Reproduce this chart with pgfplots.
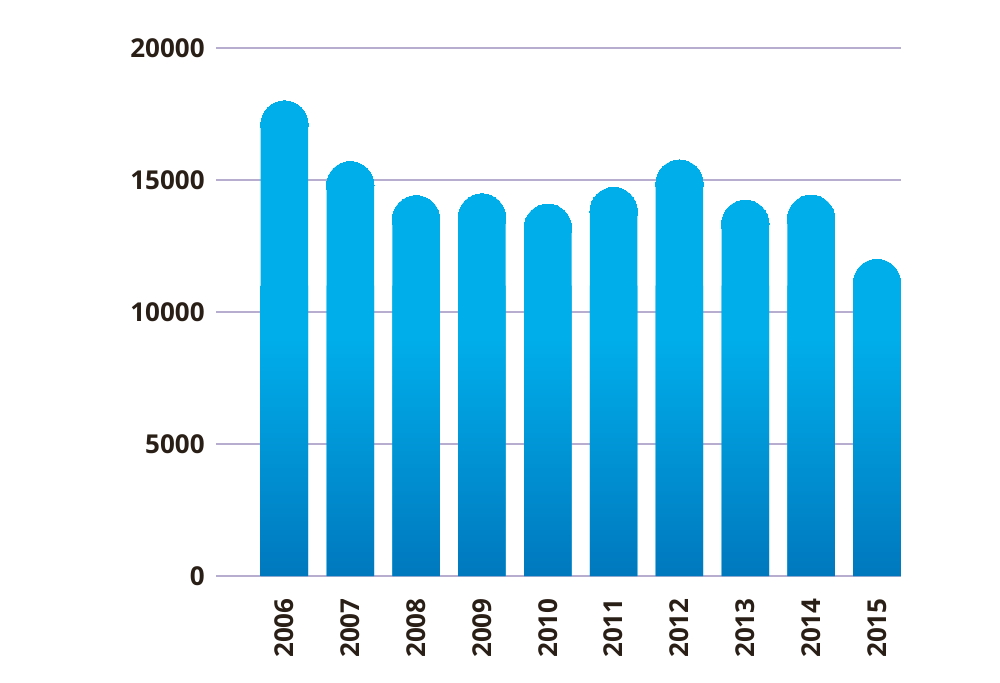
\documentclass[border=0pt]{standalone}
\usepackage{fontspec}
\setmainfont{Open Sans}
\usepackage{pgfplots}
\pgfplotsset{compat=1.18}
\definecolor{cyanc}{RGB}{0,174,234}
\definecolor{darkb}{RGB}{0,120,190}
\definecolor{gridc}{RGB}{183,174,207}
\definecolor{txt}{RGB}{42,31,23}
\pgfdeclareverticalshading{barshade}{100bp}{color(0bp)=(darkb); color(25bp)=(darkb); color(66bp)=(cyanc); color(100bp)=(cyanc)}
\begin{document}
\begin{tikzpicture}
\begin{axis}[
 scale only axis, width=342.35pt, height=264pt,
 xmin=-1.04, xmax=9.36, ymin=0, ymax=20000,
 axis line style={draw=none},
 ymajorgrids, grid style={gridc, line width=1pt},
 major tick length=0pt,
 tick style={draw=none},
 scaled y ticks=false,
 ytick={0,5000,10000,15000,20000},
 xtick={0,...,9},
 xticklabels={2006,2007,2008,2009,2010,2011,2012,2013,2014,2015},
 /pgf/number format/assume math mode=true,
 /pgf/number format/1000 sep={},
 ticklabel style={font=\bfseries\fontsize{13}{15}\selectfont, text=txt},
 yticklabel style={anchor=east, inner sep=0pt, xshift=-5.5pt},
 xticklabel style={anchor=east, inner sep=0pt, yshift=-11pt, rotate=90},
 clip=false,
]
\addplot[ybar, bar width=23.75pt, bar shift=0pt, fill=cyanc, draw=none] coordinates {(0,17100) (1,14800) (2,13510) (3,13580) (4,13190) (5,13820) (6,14860) (7,13340) (8,13530) (9,11100)};
\addplot[ybar, bar width=23.75pt, bar shift=0pt, draw=none, shading=barshade] coordinates {(0,11000) (1,11000) (2,11000) (3,11000) (4,11000) (5,11000) (6,11000) (7,11000) (8,11000) (9,11000)};
\addplot[cyanc, only marks, mark=*, mark size=11.875pt, mark options={draw=none, fill=cyanc, line width=0pt}] coordinates {(0,17100) (1,14800) (2,13510) (3,13580) (4,13190) (5,13820) (6,14860) (7,13340) (8,13530) (9,11100)};
\end{axis}
\pgfresetboundingbox
\path[use as bounding box] (-108pt,-53pt) rectangle (392pt,288pt);
\end{tikzpicture}
\end{document}
